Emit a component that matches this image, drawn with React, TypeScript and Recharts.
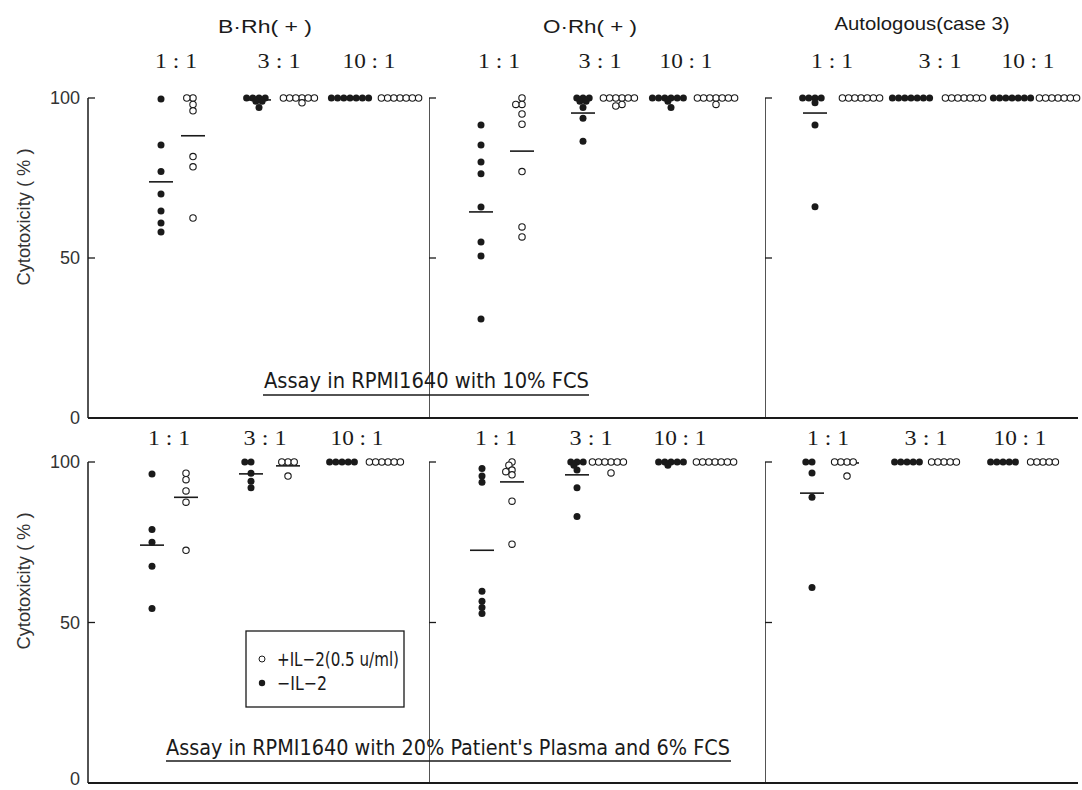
import React from 'react';
import { ScatterChart, Scatter, XAxis, YAxis, ReferenceLine } from 'recharts';

const targets = ['B·Rh( + )', 'O·Rh( + )', 'Autologous(case 3)'];
const ratios = ['1 : 1', '3 : 1', '10 : 1'];
const yTicks = [0, 50, 100];

// Assay in RPMI1640 with 10% FCS  (each list: 1:1, 3:1, 10:1)
const fcsBMinus = [[99.7, 85.3, 77, 70, 64.7, 60.9, 58.1], [100, 100, 100, 100, 99, 99, 97], [100, 100, 100, 100, 100, 100, 100]];
const fcsBPlus = [[100, 100, 98, 96, 81.7, 78.5, 62.5], [100, 100, 100, 100, 100, 100, 98.5], [100, 100, 100, 100, 100, 100, 100]];
const fcsOMinus = [[91.6, 85.3, 80, 76.3, 65.9, 55, 50.6, 30.9], [100, 100, 100, 99, 99, 97, 93.7, 86.5], [100, 100, 100, 100, 100, 100, 99, 97]];
const fcsOPlus = [[100, 98, 98, 95, 91.8, 77, 59.7, 56.6], [100, 100, 100, 100, 100, 100, 98, 97.5], [100, 100, 100, 100, 100, 100, 100, 98]];
const fcsAMinus = [[100, 100, 100, 100, 98.5, 91.6, 66], [100, 100, 100, 100, 100, 100, 100], [100, 100, 100, 100, 100, 100, 100]];
const fcsAPlus = [[100, 100, 100, 100, 100, 100, 100], [100, 100, 100, 100, 100, 100, 100], [100, 100, 100, 100, 100, 100, 100]];

// Assay in RPMI1640 with 20% Patient's Plasma and 6% FCS
const plasmaBMinus = [[96.3, 79, 75, 67.5, 54.4], [100, 100, 96.5, 94, 92], [100, 100, 100, 100, 100]];
const plasmaBPlus = [[96.5, 94.5, 91, 87.5, 72.5], [100, 100, 100, 95.6], [100, 100, 100, 100, 100, 100]];
const plasmaOMinus = [[98, 95.6, 93.7, 59.7, 56.6, 54.7, 52.8], [100, 100, 100, 99, 97.5, 92, 83], [100, 100, 100, 100, 100, 99]];
const plasmaOPlus = [[100, 99, 97.5, 97, 96, 87.8, 74.4], [100, 100, 100, 100, 100, 100, 96.6], [100, 100, 100, 100, 100, 100, 100]];
const plasmaAMinus = [[100, 100, 96.6, 89, 60.9], [100, 100, 100, 100, 100], [100, 100, 100, 100, 100]];
const plasmaAPlus = [[100, 100, 100, 100, 95.6], [100, 100, 100, 100, 100], [100, 100, 100, 100, 100]];

// mean bars: 1:1 -, 1:1 +, 3:1 -, 3:1 +, 10:1 -, 10:1 + (null = hidden under dots)
const fcsBMeans = [73.8, 88.2, 99.4, null, null, null];
const fcsOMeans = [64.4, 83.4, 95.3, null, null, null];
const fcsAMeans = [95.3, null, null, null, null, null];
const plasmaBMeans = [74.1, 89, 96.3, 98.8, null, null];
const plasmaOMeans = [72.5, 93.8, 96, null, null, null];
const plasmaAMeans = [90.3, 99.7, null, null, null, null];

const INK = '#1a1a1a';
const STEP = 6.2;
const PX_PER_UNIT = 3.2;

// spread tied values sideways like a dot plot
function swarm(values: number[], center: number) {
  const placed: { dx: number; dy: number }[] = [];
  const out: { x: number; y: number }[] = [];
  [...values].sort((a, b) => b - a).forEach((v) => {
    const dy = v * PX_PER_UNIT;
    for (let k = 0; k < 60; k++) {
      const dx = (k % 2 === 1 ? -1 : 1) * Math.ceil(k / 2) * (STEP / 2);
      const hit = placed.some((p) => ((p.dx - dx) / STEP) ** 2 + ((p.dy - dy) / (STEP * 0.55)) ** 2 < 1);
      if (!hit) {
        placed.push({ dx, dy });
        out.push({ x: center + dx, y: v });
        break;
      }
    }
  });
  return out;
}

const Filled = (p: any) => <circle cx={p.cx} cy={p.cy} r={3.5} fill={INK} />;
const Open = (p: any) => <circle cx={p.cx} cy={p.cy} r={3.2} fill="#fff" stroke={INK} strokeWidth={1.1} />;
const MeanBar = (p: any) => (
  <line x1={p.cx - 12} x2={p.cx + 12} y1={p.cy} y2={p.cy} stroke={INK} strokeWidth={1.6} />
);

// y tick label; the bottom row's 0 sits at the page edge, so lift it a little
const makeTick = (liftZero: boolean) => (p: any) => {
  const lift = liftZero && p.payload.value === 0 ? -4 : 0;
  return (
    <text x={p.x} y={p.y + lift} dy="0.355em" textAnchor="end" fontSize={18} fill="#333" fontFamily="Liberation Sans, Arial, sans-serif">
      {p.payload.value}
    </text>
  );
};

interface PanelProps {
  left: number;
  top: number;
  width: number;
  height: number;
  marginTop: number;
  marginBottom: number;
  marginRight: number;
  labels: boolean;
  liftZero?: boolean;
  minus: number[][];
  plus: number[][];
  means: (number | null)[];
  cols: number[];
}

const Panel: React.FC<PanelProps> = (props) => {
  const { left, top, width, height, marginTop, marginBottom, marginRight, labels, liftZero, minus, plus, means, cols } = props;
  const axisW = labels ? 88 : 0;
  const plotW = width - axisW - marginRight;
  const filled = minus.flatMap((vals, i) => swarm(vals, cols[i * 2]));
  const open = plus.flatMap((vals, i) => swarm(vals, cols[i * 2 + 1]));
  const bars = means
    .map((m, i) => (m == null ? null : { x: cols[i], y: m }))
    .filter(Boolean) as { x: number; y: number }[];

  return (
    <div style={{ position: 'absolute', left, top }}>
      <ScatterChart width={width} height={height} margin={{ top: marginTop, bottom: marginBottom, left: 0, right: marginRight }}>
        <XAxis type="number" dataKey="x" domain={[0, plotW]} hide />
        <YAxis
          type="number"
          dataKey="y"
          domain={[0, 100]}
          ticks={yTicks}
          interval={0}
          hide={!labels}
          width={axisW}
          axisLine={false}
          tickLine={false}
          tick={makeTick(!!liftZero)}
        />
        <ReferenceLine segment={[{ x: 0, y: 0 }, { x: 0, y: 100 }]} stroke={INK} strokeWidth={1.5} ifOverflow="visible" />
        <ReferenceLine segment={[{ x: 0, y: 100 }, { x: 7, y: 100 }]} stroke={INK} strokeWidth={1.3} ifOverflow="visible" />
        <ReferenceLine segment={[{ x: 0, y: 50 }, { x: 7, y: 50 }]} stroke={INK} strokeWidth={1.3} ifOverflow="visible" />
        <ReferenceLine segment={[{ x: 0, y: 0 }, { x: plotW, y: 0 }]} stroke={INK} strokeWidth={2} ifOverflow="visible" />
        <Scatter data={bars} shape={MeanBar} isAnimationActive={false} />
        <Scatter data={filled} shape={Filled} isAnimationActive={false} />
        <Scatter data={open} shape={Open} isAnimationActive={false} />
      </ScatterChart>
    </div>
  );
};

const sans = 'Liberation Sans, Arial, sans-serif';
const narrow = 'Liberation Sans Narrow, DejaVu Sans Condensed, sans-serif';
const serif = 'Liberation Serif, DejaVu Serif, serif';

const ratioLabelX = [
  [176, 279, 369, 499, 600, 686, 832, 940, 1028],
  [169, 265, 357, 496, 591, 680, 828, 926, 1020],
];
const ratioLabelW = [42, 43, 53];

const Overlay: React.FC = () => (
  <svg width={1082} height={790} style={{ position: 'absolute', left: 0, top: 0, pointerEvents: 'none' }}>
    <g fill={INK} fontFamily={sans} fontSize={19} textAnchor="middle">
      <text x={265} y={33} textLength={94} lengthAdjust="spacingAndGlyphs">{targets[0]}</text>
      <text x={590} y={33} textLength={94} lengthAdjust="spacingAndGlyphs">{targets[1]}</text>
      <text x={922} y={30} textLength={175} lengthAdjust="spacingAndGlyphs">{targets[2]}</text>
    </g>
    <g fill={INK} fontFamily={serif} fontSize={21} textAnchor="middle">
      {ratioLabelX.map((row, r) =>
        row.map((x, i) => (
          <text key={`${r}-${i}`} x={x} y={r === 0 ? 68 : 445} textLength={ratioLabelW[i % 3]} lengthAdjust="spacingAndGlyphs">
            {ratios[i % 3]}
          </text>
        ))
      )}
    </g>
    <g fill="#333" fontFamily={sans} fontSize={18} textAnchor="middle">
      <text x={30} y={217} transform="rotate(-90 30 217)" textLength={137} lengthAdjust="spacingAndGlyphs">Cytotoxicity  ( % )</text>
      <text x={30} y={581} transform="rotate(-90 30 581)" textLength={137} lengthAdjust="spacingAndGlyphs">Cytotoxicity  ( % )</text>
    </g>
    <g fill={INK} fontFamily={narrow} fontSize={21}>
      <text x={264} y={388} textLength={325} lengthAdjust="spacingAndGlyphs">Assay in RPMI1640 with 10% FCS</text>
      <text x={166} y={755} textLength={564} lengthAdjust="spacingAndGlyphs">Assay in RPMI1640 with 20% Patient's Plasma and 6% FCS</text>
    </g>
    <line x1={263} x2={589} y1={395} y2={395} stroke={INK} strokeWidth={1.3} />
    <line x1={166} x2={731} y1={761} y2={761} stroke={INK} strokeWidth={1.3} />
    <rect x={246} y={631} width={158} height={76} fill="#fff" stroke={INK} strokeWidth={1.3} />
    <circle cx={262} cy={659} r={3} fill="#fff" stroke={INK} strokeWidth={1} />
    <circle cx={262} cy={683} r={3.2} fill={INK} />
    <g fill={INK} fontFamily={narrow} fontSize={20}>
      <text x={277} y={666} textLength={122} lengthAdjust="spacingAndGlyphs">+IL−2(0.5 u/ml)</text>
      <text x={277} y={690} textLength={50} lengthAdjust="spacingAndGlyphs">−IL−2</text>
    </g>
  </svg>
);

export default function App() {
  const top = { top: 0, height: 430, marginTop: 98, marginBottom: 12 };
  const bottom = { top: 430, height: 360, marginTop: 32, marginBottom: 7 };
  return (
    <div style={{ position: 'absolute', left: 0, top: 0, width: 1082, height: 790, background: '#fff', overflow: 'hidden' }}>
      <Panel left={0} width={429} marginRight={0} labels {...top} minus={fcsBMinus} plus={fcsBPlus} means={fcsBMeans} cols={[73, 105, 171, 214, 262, 312]} />
      <Panel left={429} width={336} marginRight={0} labels={false} {...top} minus={fcsOMinus} plus={fcsOPlus} means={fcsOMeans} cols={[52, 93, 154, 193, 242, 287]} />
      <Panel left={765} width={317} marginRight={4} labels={false} {...top} minus={fcsAMinus} plus={fcsAPlus} means={fcsAMeans} cols={[50, 96, 146, 199, 247, 293]} />
      <Panel left={0} width={429} marginRight={0} labels liftZero {...bottom} minus={plasmaBMinus} plus={plasmaBPlus} means={plasmaBMeans} cols={[64, 98, 163, 200, 254, 300]} />
      <Panel left={429} width={336} marginRight={0} labels={false} {...bottom} minus={plasmaOMinus} plus={plasmaOPlus} means={plasmaOMeans} cols={[53, 83, 148, 182, 242, 286]} />
      <Panel left={765} width={317} marginRight={4} labels={false} {...bottom} minus={plasmaAMinus} plus={plasmaAPlus} means={plasmaAMeans} cols={[47, 82, 142, 179, 238, 278]} />
      <Overlay />
    </div>
  );
}
